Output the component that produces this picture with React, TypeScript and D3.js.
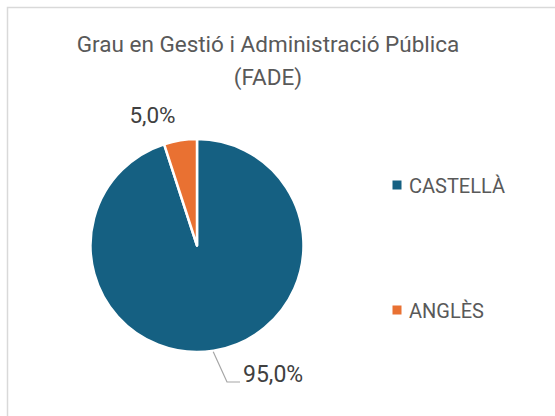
import React from "react";
import * as d3 from "d3";

const categories = ["CASTELLÀ", "ANGLÈS"];
const values = [95.0, 5.0];
const labels = ["95,0%", "5,0%"];
const colors = ["#156082", "#E97132"];
const titleLines = ["Grau en Gestió i Administració Pública", "(FADE)"];

const W = 555;
const H = 416;
const cx = 197;
const cy = 245.5;
const R = 106.5;

export default function App() {
  const pie = d3.pie<number>().sort(null).value((d) => d);
  const arcs = pie(values);
  const arcGen = d3.arc<d3.PieArcDatum<number>>().innerRadius(0).outerRadius(R);
  const font = "Roboto, 'Open Sans', sans-serif";

  const legendY = d3.scalePoint<string>().domain(categories).range([185, 310]);

  const leaderAngle = 2.99;
  const lx = cx + (R + 1) * Math.sin(leaderAngle);
  const ly = cy - (R + 1) * Math.cos(leaderAngle);

  return (
    <svg
      width={W}
      height={H}
      style={{ position: "absolute", left: 0, top: 0, background: "#fff" }}
      fontFamily={font}
    >
      <rect x={0} y={0} width={W} height={H} fill="#fff" />
      <rect x={7.5} y={7.5} width={W + 20} height={H + 20} fill="#fff" stroke="#d9d9d9" strokeWidth={1.5} />
      {titleLines.map((t, i) => (
        <text
          key={i}
          x={268}
          y={52 + i * 33}
          textAnchor="middle"
          fontSize={22.5}
          fill="#595959"
        >
          {t}
        </text>
      ))}
      <g transform={`translate(${cx},${cy})`}>
        {arcs.map((a, i) => (
          <path key={i} d={arcGen(a) || ""} fill={colors[i]} stroke="#fff" strokeWidth={2.5} strokeLinejoin="round" />
        ))}
      </g>
      <text x={152.5} y={123} textAnchor="middle" fontSize={22.5} fill="#404040">
        {labels[1]}
      </text>
      <polyline
        points={`${lx},${ly} 227,382 240,382`}
        fill="none"
        stroke="#a6a6a6"
        strokeWidth={1.2}
      />
      <text x={243} y={382} fontSize={23} fill="#404040">
        {labels[0]}
      </text>
      {categories.map((c, i) => (
        <g key={c}>
          <rect x={392.5} y={(legendY(c) as number) - 4.5} width={9} height={9} fill={colors[i]} />
          <text x={409} y={(legendY(c) as number) + 7.5} fontSize={20} fill="#595959">
            {c}
          </text>
        </g>
      ))}
    </svg>
  );
}
